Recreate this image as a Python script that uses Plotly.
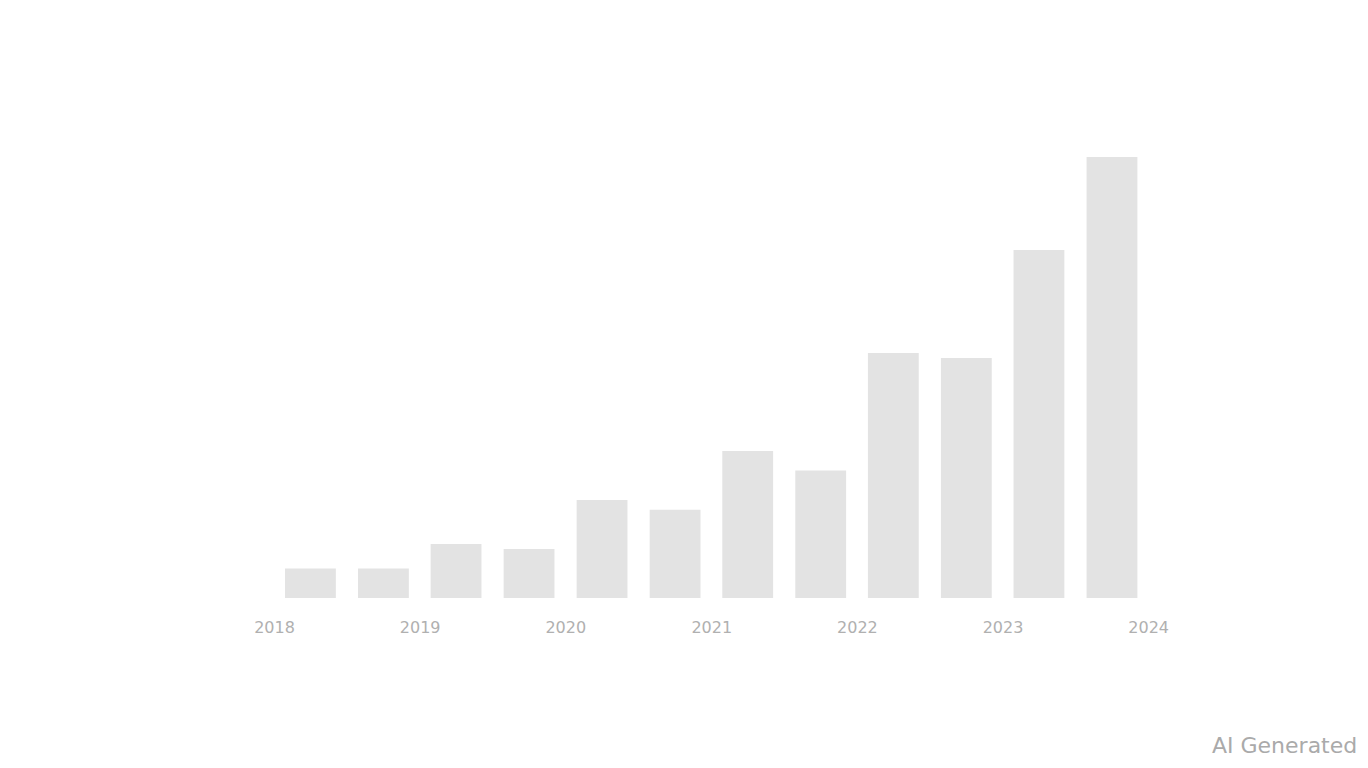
import plotly.graph_objects as go

# Half-year periods (bar positions) and values
periods = ['2018-04-01', '2018-10-01', '2019-04-01', '2019-10-01',
           '2020-04-01', '2020-10-01', '2021-04-01', '2021-10-01',
           '2022-04-01', '2022-10-01', '2023-04-01', '2023-10-01']
values = [6, 6, 11, 10, 20, 18, 30, 26, 50, 49, 71, 90]

tick_dates = ['2018-01-01', '2019-01-01', '2020-01-01', '2021-01-01',
              '2022-01-01', '2023-01-01', '2024-01-01']
tick_labels = ['2018', '2019', '2020', '2021', '2022', '2023', '2024']

fig = go.Figure()

fig.add_trace(
    go.Bar(
        x=periods,
        y=values,
        marker_color='#e3e3e3',
        marker_line_width=0,
        showlegend=False
    )
)

fig.update_xaxes(
    type='date',
    range=['2017-03-15', '2024-10-01'],
    tickvals=tick_dates,
    ticktext=tick_labels,
    showgrid=False,
    zeroline=False,
    showline=False,
    ticklabelstandoff=18,
    tickfont=dict(size=16, color='#b0b0b0')
)

fig.update_yaxes(
    range=[0, 100],
    showgrid=False,
    zeroline=False,
    showticklabels=False
)

# watermark
fig.add_annotation(
    text='AI Generated',
    xref='paper', yref='paper',
    x=1, y=0,
    xanchor='right', yanchor='middle',
    xshift=101, yshift=-147,
    showarrow=False,
    font=dict(size=22, color='#aaaaaa', family='DejaVu Sans')
)

fig.update_layout(
    width=1368,
    height=768,
    plot_bgcolor='white',
    paper_bgcolor='white',
    bargap=0.3,
    margin=dict(l=150, r=118, t=100, b=178),
    font=dict(family='DejaVu Sans')
)

fig.write_html("out.html")
